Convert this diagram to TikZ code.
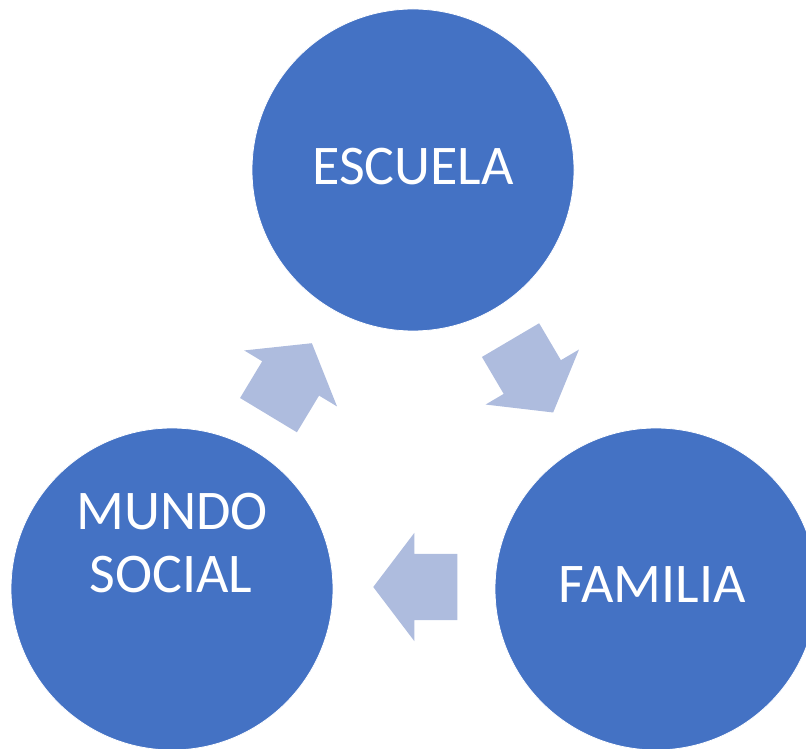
\documentclass[tikz,border=0pt]{standalone}
\definecolor{circleblue}{RGB}{68, 114, 196}
\definecolor{arrowblue}{RGB}{174, 188, 222}
\usepackage{fontspec}
\setmainfont{Carlito}
\usepackage{tikz}
\usetikzlibrary{shapes, arrows.meta, positioning, calc}

\begin{document}
\begin{tikzpicture}[x=1pt, y=1pt,
    bubble/.style={circle, draw=white, line width=0.8pt, fill=circleblue, minimum size=322pt, inner sep=0pt},
    label/.style={text=white, font=\fontsize{56}{63}\selectfont, align=center, anchor=base},
    cyclearrow/.style={single arrow, draw=none, fill=arrowblue, inner xsep=0pt, inner ysep=33pt,
      minimum width=108pt, minimum height=84pt, single arrow head extend=21pt,
      single arrow tip angle=105.6, anchor=tip}]
  \useasboundingbox (0, 0) rectangle (806, 748);
  % circles
  \node[bubble] (escuela) at (413, 578) {};
  \node[bubble] (mundo) at (172, 159) {};
  \node[bubble] (familia) at (656, 159) {};
  % labels
  \node[label] (escuelatxt) at (413, 563) {ESCUELA};
  \node[label] (mundotxt) at (172, 219) {MUNDO};
  \node[label] (socialtxt) at (171, 156) {SOCIAL};
  \node[label] (familiatxt) at (652.5, 146) {FAMILIA};
  % arrows of the cycle
  \node[cyclearrow, rotate=-59.5] (escfam) at (553.3, 335.3) {};
  \node[cyclearrow, rotate=180] (fammun) at (373, 161) {};
  \node[cyclearrow, rotate=58.9] (munesc) at (312, 405) {};
\end{tikzpicture}
\end{document}
